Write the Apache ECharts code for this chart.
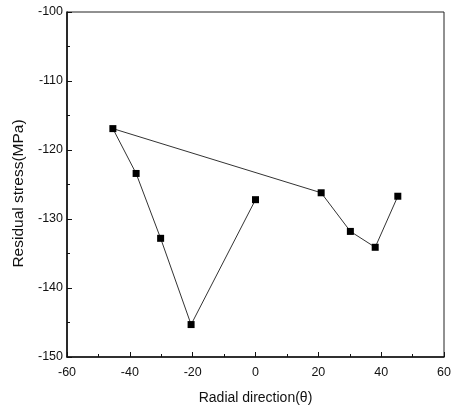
<!DOCTYPE html>
<html><head><meta charset="utf-8">
<script src="https://cdn.jsdelivr.net/npm/echarts@6/dist/echarts.min.js"></script>
<style>html,body{margin:0;padding:0;background:#fff}#c{width:459px;height:410px}</style>
</head><body><div id="c"></div>
<script>
// Measurement order as connected in the plot
const angles = [0, -20.5, -30.2, -38, -45.4, 20.9, 30.2, 38.1, 45.3];
const stresses = [-127.2, -145.3, -132.8, -123.4, -116.9, -126.2, -131.8, -134.1, -126.7];
const xTitle = 'Radial direction(θ)';
const yTitle = 'Residual stress(MPa)';

const chart = echarts.init(document.getElementById('c'), null, {renderer: 'canvas'});
const font = 'Arial, "Liberation Sans", sans-serif';
chart.setOption({
  animation: false,
  backgroundColor: '#fff',
  grid: {left: 67, right: 15, top: 12, bottom: 52, show: true, borderColor: '#222', borderWidth: 1},
  xAxis: {
    type: 'value', min: -60, max: 60, interval: 20,
    name: xTitle, nameLocation: 'middle', nameGap: 34,
    nameTextStyle: {fontFamily: font, fontSize: 14, color: '#111'},
    axisLine: {show: true, onZero: false, lineStyle: {color: '#111', width: 1.6}},
    axisTick: {show: true, inside: true, length: 5, lineStyle: {color: '#111'}},
    minorTick: {show: true, splitNumber: 2, length: 3, lineStyle: {color: '#111'}},
    axisLabel: {fontFamily: font, fontSize: 12.5, color: '#111', margin: 9},
    splitLine: {show: false}
  },
  yAxis: {
    type: 'value', min: -150, max: -100, interval: 10,
    name: yTitle, nameLocation: 'middle', nameGap: 40, nameRotate: 90,
    nameTextStyle: {fontFamily: font, fontSize: 15.5, color: '#111', padding: [0, 18, 0, 0]},
    axisLine: {show: true, onZero: false, lineStyle: {color: '#111', width: 1.6}},
    axisTick: {show: true, inside: true, length: 5, lineStyle: {color: '#111'}},
    minorTick: {show: true, splitNumber: 2, length: 3, lineStyle: {color: '#111'}},
    axisLabel: {fontFamily: font, fontSize: 12.5, color: '#111', margin: 4},
    splitLine: {show: false}
  },
  series: [{
    type: 'line',
    data: angles.map((a, i) => [a, stresses[i]]),
    symbol: 'rect', symbolSize: 7,
    itemStyle: {color: '#000'},
    lineStyle: {color: '#333', width: 1},
    z: 3
  }]
});
</script></body></html>
